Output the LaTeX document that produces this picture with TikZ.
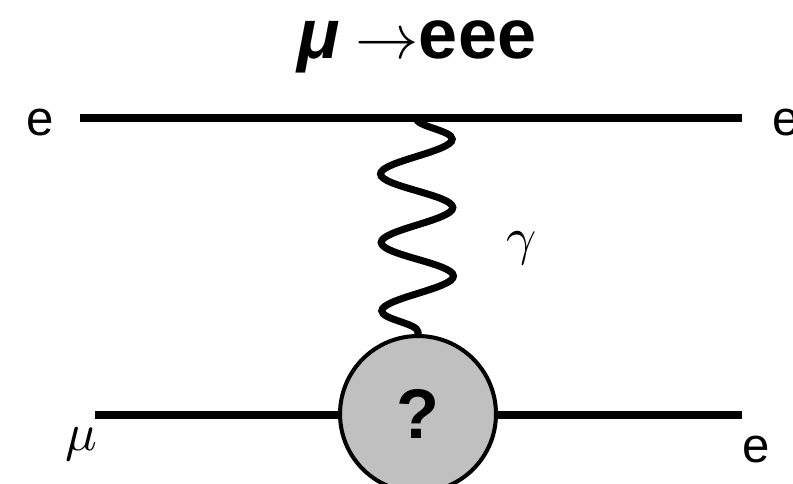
\documentclass[tikz,border=0pt]{standalone}
\usepackage{fontspec}
\setmainfont{Liberation Sans}
\usetikzlibrary{decorations.pathmorphing}
\definecolor{blobgray}{HTML}{C0C0C0}
% math symbol at 10pt, scaled up
\newcommand{\bigsym}[2]{\scalebox{#1}{\fontsize{10}{12}\selectfont$#2$}}

\begin{document}
\begin{tikzpicture}[x=0.02cm, y=-0.02cm,
  fermion/.style={line width=4.5pt},
  photon/.style={line width=4pt, decorate,
    decoration={snake, segment length=1.37cm, amplitude=0.72cm}},
  blob/.style={circle, draw, line width=2.3pt, fill=blobgray, minimum size=3.12cm,
    inner sep=0pt, font=\fontsize{40}{48}\selectfont\bfseries},
  lbl/.style={anchor=base, font=\fontsize{28}{34}\selectfont}]
\useasboundingbox (0,0) rectangle (793,483);
% title
\node[anchor=base, font=\fontsize{40}{48}\selectfont\bfseries] (title) at (417,59)
  {\textit{μ}\hspace{0.22em}\bigsym{3.6}{\rightarrow}eee};
% vertices and external legs
\coordinate (tl) at (80,118);
\coordinate (tr) at (742,118);
\coordinate (tv) at (416,118);
\coordinate (bl) at (95,415);
\coordinate (br) at (742,415);
\draw[fermion] (tl) -- (tr);
\draw[fermion] (bl) -- (br);
\node[blob] (q) at (418,414) {?};
\draw[photon] (tv) -- (q.north);
% labels
\node[lbl] (eTL) at (40,135) {e};
\node[lbl] (eTR) at (786,135) {e};
\node[lbl] (mu) at (81,450) {\bigsym{3}{\mu}};
\node[lbl] (eBR) at (756,462) {e};
\node[anchor=base] (gam) at (522,254) {\bigsym{3}{\gamma}};
\end{tikzpicture}
\end{document}
